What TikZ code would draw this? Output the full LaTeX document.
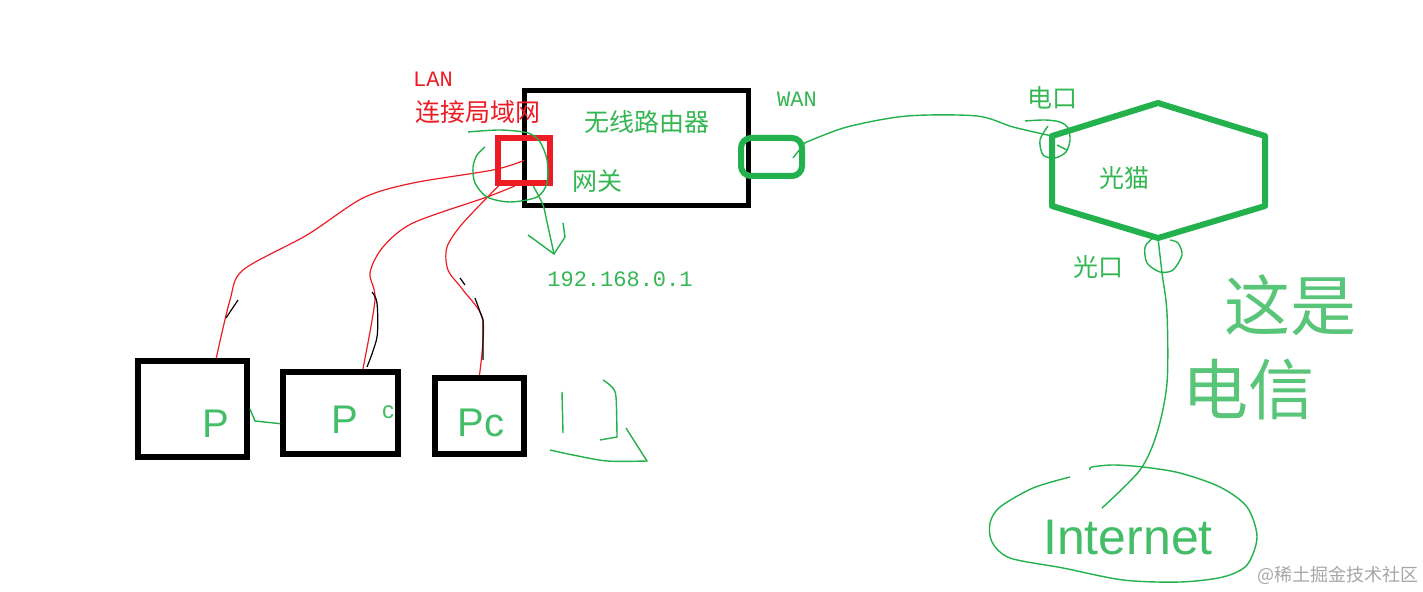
\documentclass[tikz,border=0pt]{standalone}
\usepackage{fontspec}
\setmainfont{Liberation Serif}
\setsansfont{Liberation Sans}
\setmonofont{Liberation Mono}
\newfontfamily\cjk{Noto Sans CJK SC}
\definecolor{paintred}{RGB}{237,28,36}
\definecolor{paintgreen}{RGB}{34,177,76}
\definecolor{labelgreen}{RGB}{52,182,82}
\tikzstyle{device}=[rectangle, draw, line width=3pt, inner sep=0pt]
\tikzstyle{cntext}=[font=\cjk\fontsize{12.5}{15}\selectfont, text=labelgreen, inner sep=0pt]
\tikzstyle{monotext}=[font=\ttfamily\fontsize{11}{13}\selectfont, text=labelgreen, inner sep=0pt]
\tikzstyle{hand}=[font=\sffamily\fontsize{20}{22}\selectfont, text=paintgreen!85, inner sep=0pt]
\tikzstyle{handcn}=[font=\cjk\fontsize{33}{36}\selectfont, text=paintgreen!75, inner sep=0pt]
\tikzstyle{redwire}=[paintred, line width=0.6pt]
\tikzstyle{greenwire}=[paintgreen, line width=0.7pt]
\tikzstyle{shade}=[black, line width=0.6pt]

\begin{document}
\begin{tikzpicture}[x=0.5pt, y=-0.5pt, thick]
                    \useasboundingbox (0,0) rectangle (1423,592);
                    \node[device, line width=2.5pt, minimum width=112pt, minimum height=57.5pt] (router) at (636.5,148) {};
                    \node[cntext] (routername) at (647,122) {无线路由器};
                    \node[cntext] (gateway) at (597,181) {网关};
                    \node[device, draw=paintred, minimum width=26pt, minimum height=22.5pt] (lan) at (524,160.5) {};
                    \node[monotext, text=paintred] (lanname) at (433,79) {LAN};
                    \node[cntext, text=paintred] (lantext) at (478,112) {连接局域网};
                    \node[device, draw=paintgreen, rounded corners=5pt, minimum width=30.5pt, minimum height=19pt] (wan) at (771.5,157) {};
                    \node[monotext] (wanname) at (797,99) {WAN};
                    \node[monotext] (ip) at (620,279) {192.168.0.1};
                    \coordinate (gwtip) at (554,254);

                    \coordinate (modemtop) at (1158,103);
                    \coordinate (modemur) at (1265,136);
                    \coordinate (modemlr) at (1265,206);
                    \coordinate (modembottom) at (1158,238);
                    \coordinate (modemll) at (1052,206);
                    \coordinate (modemul) at (1052,136);
                    \draw[paintgreen, line width=3pt, line join=round] (modemtop) -- (modemur) -- (modemlr) -- (modembottom) -- (modemll) -- (modemul) -- cycle;
                    \node[cntext] (modem) at (1124,178) {光猫};
                    \node[cntext] (eport) at (1052,98) {电口};
                    \node[cntext] (oport) at (1098,267) {光口};

                    \node[device, minimum width=54.5pt, minimum height=48pt] (pc1) at (192.5,409) {};
                    \node[device, minimum width=57.5pt, minimum height=41pt] (pc2) at (340.5,413) {};
                    \node[device, minimum width=44.5pt, minimum height=38pt] (pc3) at (479.5,416) {};
                    \node[hand] (pc1name) at (216,424) {P};
                    \node[hand] (pc2name) at (345,420) {P};
                    \node[hand, font=\sffamily\fontsize{12}{14}\selectfont] (pc2tail) at (388,412) {c};
                    \node[hand] (pc3name) at (481,423) {Pc};

                    \node[hand, font=\sffamily\fontsize{25}{28}\selectfont] (internet) at (1128,538) {Internet};
                    \coordinate (fiberend) at (1102,508);
                    \node[handcn] (telecom1) at (1290,305) {这是};
                    \node[handcn] (telecom2) at (1248,390) {电信};
                    \node[font=\cjk\fontsize{9}{11}\selectfont, text=gray!70, inner sep=0pt] (watermark) at (1338,575) {@稀土掘金技术社区};

                    \draw[redwire] plot[smooth] coordinates {(lan.center) (493,170) (413,183) (363,198) (307,235) (243,270) (230,300) (pc1.65)};
                    \draw[redwire] plot[smooth] coordinates {(lan.250) (487,197) (413,223) (383,247) (370,273) (375,300) (pc2.63)};
                    \draw[redwire] plot[smooth] coordinates {(lan.225) (463,223) (447,247) (448,270) (463,290) (483,320) (pc3.north)};
                    \draw[shade] (238,300) -- (226,318);
                    \draw[shade] plot[smooth] coordinates {(372,292) (377,303) (377,337) (367,367)};
                    \draw[shade] (460,278) -- (465,285) (475,298) -- (483,320) -- (483,360);

                    \draw[greenwire] plot[smooth] coordinates {(485,147) (477,155) (473,167) (475,183) (487,197) (510,202) (537,197) (547,183) (547,160) (540,142) (528,133) (500,130) (468,132)};
                    \draw[greenwire] plot[smooth] coordinates {(lan.290) (543,205) (547,222) (gwtip)};
                    \draw[greenwire] (528,235) -- (gwtip) -- (565,237) -- (563,223);

                    \draw[greenwire] (793,158) -- (wan.23);
                    \draw[greenwire] plot[smooth] coordinates {(wan.23) (847,127) (907,116) (977,116) (1013,127) (modemul)};
                    \draw[greenwire] plot[smooth] coordinates {(1025,121) (1045,120) (1060,122) (1068,128) (1070,140) (1066,152) (1055,158) (1043,155) (1040,140) (1048,126)};
                    \draw[greenwire] (1057,145) -- (1067,150);

                    \draw[greenwire] plot[smooth] coordinates {(1170,240) (1178,243) (1182,255) (1173,270) (1160,272) (1147,263) (1145,247) (1153,238)};
                    \draw[greenwire] plot[smooth] coordinates {(modembottom) (1162,273) (1167,313) (1167,383) (1157,433) (1140,470) (fiberend)};
                    \draw[greenwire] plot[smooth] coordinates {(1070,477) (1033,488) (1000,507) (990,523) (992,542) (1010,558) (1063,568) (1123,580) (1180,582) (1223,577) (1247,565) (1257,537) (1247,507) (1220,487) (1180,473) (1143,467) (1113,465) (1092,467) (1090,470)};

                    \draw[greenwire] (562,392) -- (563,433);
                    \draw[greenwire] plot[smooth] coordinates {(603,380) (612,387) (616,397) (617,437)} -- (600,440);
                    \draw[greenwire] plot[smooth] coordinates {(550,450) (573,455) (607,461) (647,461)} -- (626,428);
                    \draw[greenwire] (pc1.east) -- (255,421) -- (pc2.190);
                \end{tikzpicture}
\end{document}
